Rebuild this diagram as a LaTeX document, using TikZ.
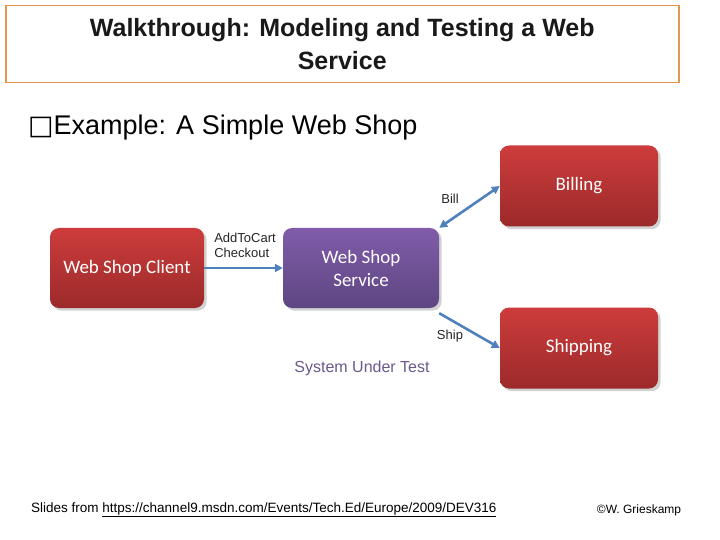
\documentclass[tikz,border=0pt]{standalone}
\usepackage{fontspec}
\setmainfont{Liberation Sans}
\newfontfamily\calfont{Carlito}
\newfontfamily\dvsfont{DejaVu Sans}
\usetikzlibrary{arrows.meta,shadows}
\definecolor{arr}{HTML}{4F81BD}
\definecolor{sut}{HTML}{6A5A8E}
\definecolor{redtop}{HTML}{CD3C3C}
\definecolor{redbot}{HTML}{9C2A2A}
\tikzset{
 redbox/.style={rounded corners=9pt,top color=redtop,bottom color=redbot,draw=none,text=white,font=\calfont\fontsize{19}{23}\selectfont,align=center,drop shadow={opacity=0.35}},
 purplebox/.style={redbox,top color={rgb,255:red,128;green,92;blue,170},bottom color={rgb,255:red,94;green,70;blue,130}},
 conn/.style={draw=arr,line width=2.6pt,-{Triangle[length=8pt,width=8pt]}},
 lbl/.style={font=\fontsize{13}{15}\selectfont,text=black!85,align=left,inner sep=0pt}
}
\begin{document}
\begin{tikzpicture}[x=1pt,y=-1pt]
\useasboundingbox (0,0) rectangle (720,540);
\fill[white] (0,0) rectangle (720,540);
\node[draw={rgb,255:red,228;green,150;blue,80},line width=1.5pt,minimum width=673pt,minimum height=77pt,anchor=north west,align=center,font=\bfseries\fontsize{25}{33}\selectfont,text=black!90] (title) at (5,5) {Walkthrough: Modeling and Testing a Web\\Service};
\node[anchor=west,font=\fontsize{27}{30}\selectfont,inner sep=0pt] (ex) at (28,128) {{\dvsfont □}Example: A Simple Web Shop};
\node[redbox,minimum width=154pt,minimum height=80pt] (client) at (127,268) {Web Shop Client};
\node[purplebox,minimum width=156pt,minimum height=80pt] (svc) at (361,268) {Web Shop\\Service};
\node[redbox,minimum width=158pt,minimum height=81pt] (bill) at (579,186) {Billing};
\node[redbox,minimum width=158pt,minimum height=81pt] (ship) at (579,348) {Shipping};
\draw[conn] (client.east) -- (svc.west);
\draw[conn,{Triangle[length=8pt,width=8pt]}-{Triangle[length=8pt,width=8pt]}] (svc.north east) -- (bill.west);
\draw[conn] ([yshift=-5pt]svc.south east) -- (ship.west);
\node[lbl] (l1) at (245,245) {AddToCart\\Checkout};
\node[lbl] (l2) at (450,199) {Bill};
\node[lbl] (l3) at (450,336) {Ship};
\node[font=\fontsize{16}{18}\selectfont,text=sut] (sut) at (362,368) {System Under Test};
\node[anchor=west,font=\fontsize{13.5}{15}\selectfont,inner sep=0pt] (foot) at (31,510) {Slides from \underline{https://channel9.msdn.com/Events/Tech.Ed/Europe/2009/DEV316}};
\node[font=\fontsize{12}{14}\selectfont,inner sep=0pt] (copy) at (639,510) {©W. Grieskamp};
\end{tikzpicture}
\end{document}
